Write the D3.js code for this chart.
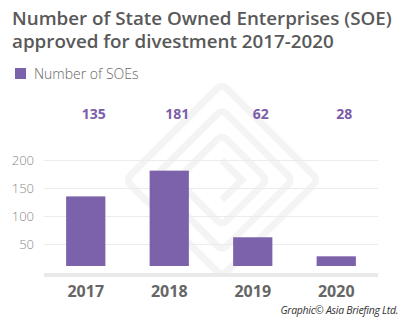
<!DOCTYPE html>
<html>
<head>
<meta charset="utf-8">
<script src="https://cdn.jsdelivr.net/npm/d3@7"></script>
<style>
  body { margin: 0; background: #fff; }
  svg { display: block; font-family: "Open Sans", sans-serif; }
</style>
</head>
<body>
<div id="chart"></div>
<script>
// Data
const years = ["2017", "2018", "2019", "2020"];
const soeCounts = [135, 181, 62, 28];
const yTicks = [50, 100, 150, 200];
const titleLines = [
  "Number of State Owned Enterprises (SOE)",
  "approved for divestment 2017-2020"
];

const dimensions = {
  width: 403,
  height: 334,
  left: 44,
  right: 378,
  top: 160,
  bottom: 272
};

const svg = d3.select("#chart")
  .append("svg")
  .attr("width", dimensions.width)
  .attr("height", dimensions.height);

// Scales
const xScale = d3.scaleBand()
  .domain(years)
  .range([dimensions.left, dimensions.right])
  .paddingInner(0.53)
  .paddingOuter(0.265);

const yScale = d3.scaleLinear()
  .domain([0, 200])
  .range([dimensions.bottom, dimensions.top]);

// Watermark (faint logo behind the bars)
const wm = svg.append("g")
  .attr("transform", "translate(222,180) rotate(45)")
  .attr("fill", "none")
  .attr("stroke", "#f4f4f4")
  .attr("stroke-width", 7);
[68, 50, 32].forEach(s => {
  wm.append("rect")
    .attr("x", -s).attr("y", -s)
    .attr("width", s * 2).attr("height", s * 2)
    .attr("rx", 6);
});
wm.append("path").attr("d", "M-14,-14 L14,-14 L14,14");

// Gridlines
svg.append("g")
  .selectAll("line")
  .data(yTicks)
  .join("line")
  .attr("x1", dimensions.left)
  .attr("x2", dimensions.right)
  .attr("y1", d => yScale(d) + 0.5)
  .attr("y2", d => yScale(d) + 0.5)
  .attr("stroke", "#ececec")
  .attr("stroke-width", 1);

// Y tick labels
svg.append("g")
  .selectAll("text")
  .data(yTicks)
  .join("text")
  .attr("x", 34)
  .attr("y", d => yScale(d) + 4.5)
  .attr("text-anchor", "end")
  .attr("font-size", 13)
  .attr("font-weight", 300)
  .attr("fill", "#888")
  .text(d => d);

// Bars (sit slightly above the base line)
svg.append("g")
  .selectAll("rect")
  .data(soeCounts)
  .join("rect")
  .attr("x", (d, i) => xScale(years[i]))
  .attr("width", xScale.bandwidth())
  .attr("y", d => yScale(d))
  .attr("height", d => yScale(0) - 6 - yScale(d))
  .attr("fill", "#7b62aa");

// Base line
svg.append("line")
  .attr("x1", dimensions.left)
  .attr("x2", dimensions.right)
  .attr("y1", yScale(0) + 3)
  .attr("y2", yScale(0) + 3)
  .attr("stroke", "#e9e9e9")
  .attr("stroke-width", 4);

// Value labels row
svg.append("g")
  .selectAll("text")
  .data(soeCounts)
  .join("text")
  .attr("x", (d, i) => xScale(years[i]) + xScale.bandwidth() / 2 + 8)
  .attr("y", 119)
  .attr("text-anchor", "middle")
  .attr("font-size", 14)
  .attr("font-weight", 700)
  .attr("fill", "#7b5ea7")
  .text(d => d);

// Year labels
svg.append("g")
  .selectAll("text")
  .data(years)
  .join("text")
  .attr("x", d => xScale(d) + xScale.bandwidth() / 2)
  .attr("y", 297)
  .attr("text-anchor", "middle")
  .attr("font-size", 16)
  .attr("font-weight", 700)
  .attr("fill", "#666")
  .text(d => d);

// Title, one text per line
svg.append("g")
  .selectAll("text")
  .data(titleLines)
  .join("text")
  .attr("x", 12)
  .attr("y", (d, i) => 25 + i * 22.5)
  .attr("font-size", 18.8)
  .attr("font-weight", 600)
  .attr("fill", "#595959")
  .text(d => d);

// Legend
svg.append("rect")
  .attr("x", 15).attr("y", 68)
  .attr("width", 11).attr("height", 11)
  .attr("fill", "#7b62aa");
svg.append("text")
  .attr("x", 34).attr("y", 79)
  .attr("font-size", 14)
  .attr("font-weight", 300)
  .attr("fill", "#666")
  .text("Number of SOEs");

// Credit
svg.append("text")
  .attr("x", 398).attr("y", 314)
  .attr("text-anchor", "end")
  .attr("font-size", 10.5)
  .attr("font-style", "italic")
  .attr("fill", "#333")
  .attr("letter-spacing", -0.3)
  .text("Graphic© Asia Briefing Ltd.");
</script>
</body>
</html>
